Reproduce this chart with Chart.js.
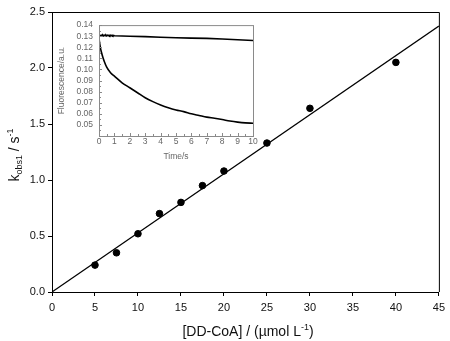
<!DOCTYPE html>
<html>
<head>
<meta charset="utf-8">
<script src="https://cdn.jsdelivr.net/npm/chart.js@4"></script>
<style>
  html, body { margin: 0; padding: 0; background: #fff; }
  #wrap { position: relative; width: 450px; height: 341px; }
  #mainChart { position: absolute; left: 0; top: 0; }
  #insetChart { position: absolute; left: 55px; top: 14px; }
</style>
</head>
<body>
<div id="wrap">
  <canvas id="mainChart" width="450" height="341"></canvas>
  <canvas id="insetChart" width="205" height="150"></canvas>
</div>
<script>
// main plot data
const concX = [5, 7.5, 10, 12.5, 15, 17.5, 20, 25, 30, 40];
const kObs = [0.24, 0.35, 0.52, 0.70, 0.80, 0.95, 1.08, 1.33, 1.64, 2.05];
const fitX = [0, 45];
const fitY = [0, 2.375];
const mainXTicks = [0, 5, 10, 15, 20, 25, 30, 35, 40, 45];
const mainYTicks = [0, 0.5, 1.0, 1.5, 2.0, 2.5];

// inset traces
const upperT = [0, 0.05, 0.1, 0.15, 0.2, 0.25, 0.3, 0.35, 0.4, 0.45, 0.5, 0.55, 0.6, 0.65, 0.7, 0.75, 0.8, 0.85, 0.9, 0.95, 1.0, 2, 3, 4, 5, 6, 7, 8, 9, 10];
const upperF = [0.1305, 0.1308, 0.1303, 0.1309, 0.1304, 0.1310, 0.1303, 0.1309, 0.1304, 0.1310, 0.1303, 0.1309, 0.1304, 0.1309, 0.1303, 0.1308, 0.1304, 0.1309, 0.1303, 0.1307, 0.1304, 0.1300, 0.1296, 0.1290, 0.1286, 0.1283, 0.1280, 0.1274, 0.1268, 0.1261];
const lowerT = [0, 0.05, 0.1, 0.15, 0.25, 0.35, 0.5, 0.75, 1, 1.5, 2, 2.5, 3, 3.5, 4, 4.5, 5, 5.5, 6, 6.5, 7, 7.5, 8, 8.5, 9, 9.5, 10];
const lowerF = [0.128, 0.123, 0.119, 0.116, 0.111, 0.107, 0.102, 0.097, 0.094, 0.088, 0.0835, 0.079, 0.0745, 0.071, 0.068, 0.0655, 0.0635, 0.062, 0.060, 0.0585, 0.057, 0.056, 0.0548, 0.0535, 0.0525, 0.0518, 0.0515];
const timeTicks = [0, 1, 2, 3, 4, 5, 6, 7, 8, 9, 10];
const fluorTicks = [0.04, 0.05, 0.06, 0.07, 0.08, 0.09, 0.10, 0.11, 0.12, 0.13, 0.14];

const pts = (xs, ys) => xs.map((x, i) => ({ x: x, y: ys[i] }));
const FONT = "'Liberation Sans', Arial, sans-serif";

// ---------- main chart ----------
const mainExtras = {
    id: "mainExtras",
    afterDraw(chart) {
        const ctx = chart.ctx;
        const a = chart.chartArea;
        ctx.save();
        // top and right frame
        ctx.strokeStyle = "#000";
        ctx.lineWidth = 1;
        ctx.beginPath();
        ctx.moveTo(a.left, a.top + 0.5);
        ctx.lineTo(a.right + 0.5, a.top + 0.5);
        ctx.lineTo(a.right + 0.5, a.bottom);
        ctx.stroke();

        ctx.fillStyle = "#111";
        ctx.textBaseline = "alphabetic";
        // y title: k_obs1 / s^-1
        const big = "14px " + FONT, small = "9px " + FONT;
        const parts = [
            { t: "k", f: big, dy: 0 },
            { t: "obs1", f: small, dy: 3 },
            { t: " / s", f: big, dy: 0 },
            { t: "-1", f: small, dy: -6 }
        ];
        let total = 0;
        parts.forEach(p => { ctx.font = p.f; p.w = ctx.measureText(p.t).width; total += p.w; });
        ctx.translate(19, 155);
        ctx.rotate(-Math.PI / 2);
        let x = -total / 2;
        parts.forEach(p => { ctx.font = p.f; ctx.fillText(p.t, x, p.dy); x += p.w; });
        ctx.setTransform(1, 0, 0, 1, 0, 0);

        // x title: [DD-CoA] / (µmol L^-1)
        const xparts = [
            { t: "[DD-CoA] / (µmol L", f: big, dy: 0 },
            { t: "-1", f: small, dy: -6 },
            { t: ")", f: big, dy: 0 }
        ];
        total = 0;
        xparts.forEach(p => { ctx.font = p.f; p.w = ctx.measureText(p.t).width; total += p.w; });
        x = 248 - total / 2;
        xparts.forEach(p => { ctx.font = p.f; ctx.fillText(p.t, x, 336 + p.dy); x += p.w; });
        ctx.restore();
    }
};

new Chart(document.getElementById("mainChart"), {
    type: "scatter",
    data: {
        datasets: [
            {
                label: "fit",
                data: pts(fitX, fitY),
                showLine: true,
                borderColor: "#000",
                borderWidth: 1.2,
                pointRadius: 0
            },
            {
                label: "kobs1",
                data: pts(concX, kObs),
                backgroundColor: "#000",
                borderColor: "#000",
                pointRadius: 3.3
            }
        ]
    },
    options: {
        responsive: false,
        animation: false,
        layout: { padding: { top: 12, right: 8, left: 0, bottom: 0 } },
        plugins: { legend: { display: false }, tooltip: { enabled: false } },
        scales: {
            x: {
                min: 0, max: 45,
                afterBuildTicks: (axis) => { axis.ticks = mainXTicks.map(v => ({ value: v })); },
                afterFit: (axis) => { axis.height = 49; },
                ticks: { color: "#111", font: { family: FONT, size: 11 }, padding: 5, maxRotation: 0, autoSkip: false },
                grid: { drawOnChartArea: false, tickLength: 4, color: "#000" },
                border: { color: "#000", width: 1 }
            },
            y: {
                min: 0, max: 2.5,
                afterBuildTicks: (axis) => { axis.ticks = mainYTicks.map(v => ({ value: v })); },
                afterFit: (axis) => { axis.width = 52; },
                ticks: { color: "#111", font: { family: FONT, size: 11 }, padding: 3, autoSkip: false, callback: v => v.toFixed(1) },
                grid: { drawOnChartArea: false, tickLength: 4, color: "#000" },
                border: { color: "#000", width: 1 }
            }
        }
    },
    plugins: [mainExtras]
});

// ---------- inset chart ----------
const insetFrame = {
    id: "insetFrame",
    afterDraw(chart) {
        const ctx = chart.ctx;
        const a = chart.chartArea;
        const xs = chart.scales.x, ys = chart.scales.y;
        ctx.save();
        ctx.strokeStyle = "#8a8a8a";
        ctx.lineWidth = 1;
        ctx.strokeRect(a.left + 0.5, a.top + 0.5, a.right - a.left, a.bottom - a.top);
        ctx.beginPath();
        // inner ticks on time axis, major + half steps
        timeTicks.forEach((t, i) => {
            const px = Math.round(xs.getPixelForValue(t)) + 0.5;
            ctx.moveTo(px, a.bottom); ctx.lineTo(px, a.bottom - 3);
            if (i < timeTicks.length - 1) {
                const hx = Math.round(xs.getPixelForValue((t + timeTicks[i + 1]) / 2)) + 0.5;
                ctx.moveTo(hx, a.bottom); ctx.lineTo(hx, a.bottom - 2);
            }
        });
        // inner ticks on fluorescence axis
        fluorTicks.forEach((f, i) => {
            const py = Math.round(ys.getPixelForValue(f)) + 0.5;
            ctx.moveTo(a.left, py); ctx.lineTo(a.left + 3, py);
            if (i < fluorTicks.length - 1) {
                const hy = Math.round(ys.getPixelForValue((f + fluorTicks[i + 1]) / 2)) + 0.5;
                ctx.moveTo(a.left, hy); ctx.lineTo(a.left + 2, hy);
            }
        });
        ctx.stroke();
        ctx.restore();
    }
};

new Chart(document.getElementById("insetChart"), {
    type: "scatter",
    data: {
        datasets: [
            {
                label: "upper",
                data: pts(upperT, upperF),
                showLine: true,
                borderColor: "#000",
                borderWidth: 1.6,
                pointRadius: 0
            },
            {
                label: "lower",
                data: pts(lowerT, lowerF),
                showLine: true,
                cubicInterpolationMode: "monotone",
                borderColor: "#000",
                borderWidth: 1.6,
                pointRadius: 0
            }
        ]
    },
    options: {
        responsive: false,
        animation: false,
        layout: { padding: { top: 6, right: 7, left: 0, bottom: 0 } },
        plugins: { legend: { display: false }, tooltip: { enabled: false } },
        scales: {
            x: {
                min: 0, max: 10,
                afterBuildTicks: (axis) => { axis.ticks = timeTicks.map(v => ({ value: v })); },
                afterFit: (axis) => { axis.height = 28; },
                ticks: { color: "#666", font: { family: FONT, size: 8.5 }, padding: 1, maxRotation: 0, autoSkip: false },
                grid: { display: false, drawTicks: false },
                border: { display: false },
                title: { display: true, text: "Time/s", color: "#666", font: { family: FONT, size: 8.5 }, padding: { top: 0, bottom: 2 } }
            },
            y: {
                min: 0.04, max: 0.14,
                afterBuildTicks: (axis) => { axis.ticks = fluorTicks.map(v => ({ value: v })); },
                afterFit: (axis) => { axis.width = 44; },
                ticks: {
                    color: "#666", font: { family: FONT, size: 8.5 }, padding: 6, autoSkip: false,
                    callback: v => v < 0.045 ? "" : v.toFixed(2)
                },
                grid: { display: false, drawTicks: false },
                border: { display: false },
                title: { display: true, text: "Fluorescence/a.u.", color: "#666", font: { family: FONT, size: 8.5 }, padding: { top: 2, bottom: 0 } }
            }
        }
    },
    plugins: [insetFrame]
});
</script>
</body>
</html>
